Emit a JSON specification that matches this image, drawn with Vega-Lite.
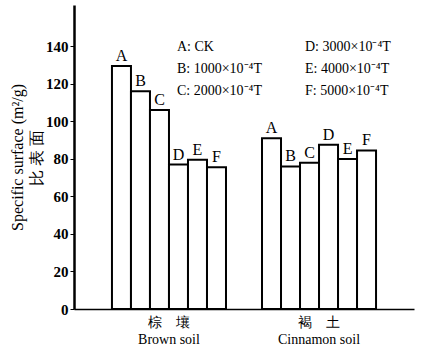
{
  "$schema": "https://vega.github.io/schema/vega-lite/v6.json",
  "width": 340,
  "height": 304,
  "autosize": "none",
  "padding": {"left": 74, "top": 5, "right": 9, "bottom": 46},
  "background": "white",
  "config": {"view": {"stroke": null}, "font": "Liberation Serif"},
  "data": {"values": [
    {"soil": "Brown soil", "trt": "A", "value": 129.5},
    {"soil": "Brown soil", "trt": "B", "value": 116},
    {"soil": "Brown soil", "trt": "C", "value": 106},
    {"soil": "Brown soil", "trt": "D", "value": 77},
    {"soil": "Brown soil", "trt": "E", "value": 79.5},
    {"soil": "Brown soil", "trt": "F", "value": 75.5},
    {"soil": "Cinnamon soil", "trt": "A", "value": 91},
    {"soil": "Cinnamon soil", "trt": "B", "value": 76},
    {"soil": "Cinnamon soil", "trt": "C", "value": 78},
    {"soil": "Cinnamon soil", "trt": "D", "value": 87.5},
    {"soil": "Cinnamon soil", "trt": "E", "value": 80},
    {"soil": "Cinnamon soil", "trt": "F", "value": 84.5}
  ]},
  "encoding": {
    "x": {
      "field": "soil", "type": "nominal", "sort": ["Brown soil", "Cinnamon soil"],
      "scale": {"paddingInner": 0.24, "paddingOuter": 0.253},
      "axis": {
        "title": null, "ticks": false, "labelAngle": 0, "labelFontSize": 14,
        "labelPadding": 6, "labelLineHeight": 17, "labelColor": "black",
        "labelExpr": "datum.value == 'Brown soil' ? ['棕　壤', 'Brown soil'] : ['褐　土', 'Cinnamon soil']",
        "domainWidth": 1.5, "domainColor": "black"
      }
    },
    "xOffset": {"field": "trt", "type": "nominal", "sort": ["A", "B", "C", "D", "E", "F"], "scale": {"paddingInner": 0, "paddingOuter": 0}},
    "y": {
      "field": "value", "type": "quantitative",
      "scale": {"domain": [0, 162], "nice": false},
      "axis": {
        "values": [0, 20, 40, 60, 80, 100, 120, 140], "grid": false,
        "labelFontSize": 15, "labelFontWeight": "bold", "labelColor": "black",
        "tickSize": 4, "tickColor": "black", "domainWidth": 2.5, "domainColor": "black",
        "title": ["Specific surface (m²/g)", "比 表 面"], "titleFontSize": 16,
        "titleFontWeight": "normal", "titleColor": "black", "titlePadding": 1, "titleLineHeight": 19
      }
    }
  },
  "layer": [
    {
      "mark": {"type": "bar", "fill": "white", "strokeWidth": 2},
      "encoding": {
        "stroke": {
          "field": "trt", "type": "nominal",
          "scale": {"domain": ["A", "D", "B", "E", "C", "F"], "range": ["black", "black", "black", "black", "black", "black"]},
          "legend": {
            "orient": "none", "legendX": 89, "legendY": 35, "columns": 2, "direction": "horizontal",
            "title": null, "symbolSize": 0, "symbolOpacity": 0, "symbolStrokeWidth": 0, "labelOffset": 0,
            "labelFontSize": 14, "labelColor": "black", "rowPadding": 8, "columnPadding": 28,
            "labelLimit": 200,
            "labelExpr": "datum.label == 'A' ? 'A: CK' : datum.label == 'B' ? 'B: 1000×10⁻⁴T' : datum.label == 'C' ? 'C: 2000×10⁻⁴T' : datum.label == 'D' ? 'D: 3000×10⁻⁴T' : datum.label == 'E' ? 'E: 4000×10⁻⁴T' : 'F: 5000×10⁻⁴T'"
          }
        }
      }
    },
    {
      "mark": {"type": "text", "baseline": "bottom", "dy": -2, "fontSize": 16, "color": "black"},
      "encoding": {"text": {"field": "trt", "type": "nominal"}}
    }
  ]
}
